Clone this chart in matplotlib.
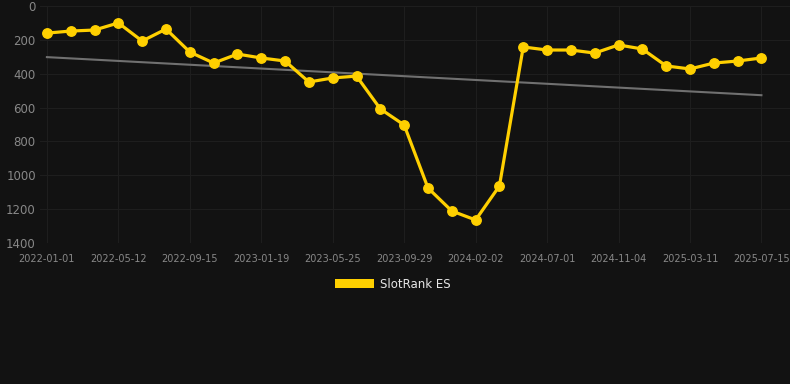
import numpy as np
import matplotlib as mpl
mpl.use('Agg')
import matplotlib.pyplot as plt
from matplotlib.patches import Patch

# x tick labels (every 3rd point)
tick_labels = ['2022-01-01', '2022-05-12', '2022-09-15', '2023-01-19', '2023-05-25',
               '2023-09-29', '2024-02-02', '2024-07-01', '2024-11-04', '2025-03-11',
               '2025-07-15']

# rank values
rank_es = [160, 148, 142, 100, 207, 136, 272, 337, 284, 307, 325,
           449, 425, 414, 608, 703, 1075, 1211, 1264, 1063, 242,
           260, 260, 278, 230, 254, 354, 372, 337, 325, 307]

bg = '#121212'
yellow = '#FFD000'

fig = plt.figure(figsize=(7.9, 3.84), dpi=100, facecolor=bg)
ax = fig.add_axes([40/790, 1 - 243/384, 750/790, 237/384], facecolor=bg)

x = np.arange(len(rank_es))
ax.plot(x, rank_es, color=yellow, lw=2.3, marker='o', ms=6.8, zorder=3)

# linear trend
coef = np.polyfit(x, rank_es, 1)
ax.plot(x, np.polyval(coef, x), color='#707070', lw=1.5, zorder=2)

ax.set_xlim(-0.29, 31.2)
ax.set_ylim(1400, 0)
ax.set_yticks([0, 200, 400, 600, 800, 1000, 1200, 1400])
ax.set_xticks(np.arange(0, len(rank_es), 3))
ax.set_xticklabels(tick_labels)

ax.grid(True, color='#1e1e1e', lw=0.8)
ax.set_axisbelow(True)
for s in ax.spines.values():
    s.set_visible(False)
ax.tick_params(axis='both', length=0, colors='#888888')
ax.tick_params(axis='x', labelsize=7, pad=8)
ax.tick_params(axis='y', labelsize=8.5, pad=3)

leg = fig.legend(handles=[Patch(facecolor=yellow, label='SlotRank ES')],
                 loc='center', bbox_to_anchor=(0.497, 1 - 284/384), frameon=False,
                 fontsize=8.5, handlelength=3.3, handleheight=0.9, handletextpad=0.5,
                 labelcolor='#e6e6e6')

plt.savefig('out.png', facecolor=bg)
plt.close()
